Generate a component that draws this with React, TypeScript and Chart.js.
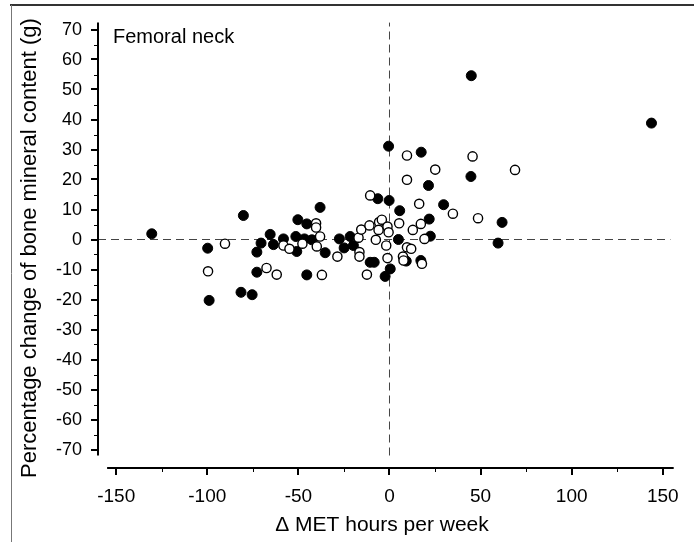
import React, { useEffect, useRef } from "react";
import { Chart, registerables } from "chart.js";

Chart.register(...registerables);

// Filled circles (x: Δ MET hours per week, y: % change of BMC)
const filledX = [-130.5, -80.2, -99.8, -70.5, -72.8, -72.8, -81.5, -75.4, -99, -0.5, -6.4, -0.2, 5.6, -38.1, -50.3, -45.4, -65.5, -63.7, -58.2, -51.4, -50.9, -42.6, -35.3, -45.4, -27.5, -24.9, -21.6, -19.8, -10.6, -8.4, 0.4, -2.4, 17.4, 44.7, 21.4, 29.7, 21.8, 61.8, 22.4, 4.9, 59.6, 9.2, 17.2, 44.9, 143.8, -46.7];
const filledY = [1.9, 8.0, -2.9, -1.2, -4.2, -10.9, -17.6, -18.4, -20.3, 31.1, 13.6, 13.0, 9.6, 10.7, 6.6, 5.2, 1.7, -1.7, 0.2, 1.0, -4.0, -0.1, -4.4, -11.8, 0.2, -2.8, 1.0, -2.0, -7.6, -7.6, -9.8, -12.3, 29.1, 21.0, 18.0, 11.6, 6.8, 5.7, 1.1, 0.0, -1.2, -7.2, -7.0, 54.6, 38.8, 0.2];

// Open circles
const openX = [-90.3, -99.6, -67.5, -10.6, -40.3, -40.3, -38.1, -58.2, -54.9, -47.8, -39.9, -61.9, -37.1, -28.6, -17.0, -15.5, -16.5, -16.5, -11.0, -12.4, -7.5, -5.7, -4.2, -6.0, -1.1, -0.5, -1.8, -1.1, 9.6, 45.6, 25.1, 68.9, 9.6, 16.3, 34.8, 48.6, 5.3, 17.2, 12.8, 19.2, 9.6, 11.9, 7.4, 7.7, 17.8];
const openY = [-1.4, -10.6, -9.5, 14.7, 5.4, 4.0, 1.0, -2.0, -3.1, -1.4, -2.3, -11.7, -11.8, -5.7, 0.6, 3.3, -4.2, -5.7, 4.7, -11.7, -0.1, 5.8, 6.6, 3.2, 4.3, 2.4, -2.0, -6.2, 28.0, 27.7, 23.3, 23.2, 19.9, 11.9, 8.6, 7.1, 5.4, 5.2, 3.2, 0.2, -2.6, -3.1, -5.7, -7.0, -8.1];

const xMajorTicks = [-150, -100, -50, 0, 50, 100, 150];
const xMinorTicks = [-125, -75, -25, 25, 75, 125];
const yMajorTicks = [70, 60, 50, 40, 30, 20, 10, 0, -10, -20, -30, -40, -50, -60, -70];
const yMinorTicks = [65, 55, 45, 35, 25, 15, 5, -5, -15, -25, -35, -45, -55, -65];

const xTitle = "\u0394 MET hours per week";
const yTitle = "Percentage change of bone mineral content (g)";
const panelLabel = "Femoral neck";

const FONT = "'Liberation Sans', Arial, Helvetica, sans-serif";

const axesPlugin = {
  id: "offsetAxes",
  afterDraw(chart: any) {
    const ctx = chart.ctx;
    const xs = chart.scales.x;
    const ys = chart.scales.y;
    const area = chart.chartArea;
    ctx.save();

    // frame (top and left)
    ctx.strokeStyle = "#333";
    ctx.lineWidth = 2;
    ctx.beginPath();
    ctx.moveTo(10, 5);
    ctx.lineTo(694, 5);
    ctx.stroke();
    ctx.strokeStyle = "#777";
    ctx.lineWidth = 1;
    ctx.beginPath();
    ctx.moveTo(11.5, 5);
    ctx.lineTo(11.5, 542);
    ctx.stroke();

    ctx.strokeStyle = "#000";
    ctx.fillStyle = "#000";

    // y axis
    const yAxisX = area.left;
    ctx.lineWidth = 2;
    ctx.beginPath();
    ctx.moveTo(yAxisX, ys.getPixelForValue(72.3));
    ctx.lineTo(yAxisX, ys.getPixelForValue(-72));
    ctx.stroke();
    yMajorTicks.forEach((v) => {
      const py = Math.round(ys.getPixelForValue(v));
      ctx.beginPath();
      ctx.moveTo(yAxisX - 7, py);
      ctx.lineTo(yAxisX, py);
      ctx.stroke();
    });
    ctx.lineWidth = 1;
    yMinorTicks.forEach((v) => {
      const py = Math.round(ys.getPixelForValue(v)) + 0.5;
      ctx.beginPath();
      ctx.moveTo(yAxisX - 4, py);
      ctx.lineTo(yAxisX, py);
      ctx.stroke();
    });
    ctx.font = `18px ${FONT}`;
    ctx.textAlign = "right";
    ctx.textBaseline = "middle";
    yMajorTicks.forEach((v) => {
      ctx.fillText(String(v), yAxisX - 16, ys.getPixelForValue(v) + 1);
    });

    // x axis
    const xAxisY = Math.round(area.bottom);
    ctx.lineWidth = 2;
    ctx.beginPath();
    ctx.moveTo(xs.getPixelForValue(-155), xAxisY);
    ctx.lineTo(xs.getPixelForValue(156), xAxisY);
    ctx.stroke();
    xMajorTicks.forEach((v) => {
      const px = Math.round(xs.getPixelForValue(v));
      ctx.beginPath();
      ctx.moveTo(px, xAxisY);
      ctx.lineTo(px, xAxisY + 7);
      ctx.stroke();
    });
    ctx.lineWidth = 1;
    xMinorTicks.forEach((v) => {
      const px = Math.round(xs.getPixelForValue(v)) + 0.5;
      ctx.beginPath();
      ctx.moveTo(px, xAxisY);
      ctx.lineTo(px, xAxisY + 4);
      ctx.stroke();
    });
    ctx.font = `19px ${FONT}`;
    ctx.textAlign = "center";
    ctx.textBaseline = "alphabetic";
    xMajorTicks.forEach((v) => {
      ctx.fillText(String(v), xs.getPixelForValue(v), 502);
    });

    // axis titles
    ctx.font = `21px ${FONT}`;
    ctx.textAlign = "center";
    ctx.fillText(xTitle, 382, 531);

    ctx.save();
    ctx.translate(36, 248);
    ctx.rotate(-Math.PI / 2);
    ctx.font = `22px ${FONT}`;
    ctx.textAlign = "center";
    ctx.textBaseline = "alphabetic";
    ctx.fillText(yTitle, 0, 0);
    ctx.restore();

    // panel label
    ctx.font = `20px ${FONT}`;
    ctx.textAlign = "left";
    ctx.fillText(panelLabel, 113, 43);

    ctx.restore();
  },
};

export default function App() {
  const ref = useRef<HTMLCanvasElement | null>(null);

  useEffect(() => {
    if (!ref.current) return;
    const filled = filledX.map((x, i) => ({ x, y: filledY[i] }));
    const open = openX.map((x, i) => ({ x, y: openY[i] }));
    const chart = new Chart(ref.current, {
      type: "scatter",
      data: {
        datasets: [
          {
            label: "open",
            data: open,
            order: 0,
            pointRadius: 4.6,
            pointBorderWidth: 1.4,
            pointBackgroundColor: "#ffffff",
            pointBorderColor: "#000000",
          },
          {
            label: "filled",
            data: filled,
            order: 1,
            pointRadius: 5,
            pointBorderWidth: 1,
            pointBackgroundColor: "#000000",
            pointBorderColor: "#000000",
          },
          {
            type: "line",
            label: "h0",
            data: [
              { x: -160, y: 0 },
              { x: 154.2, y: 0 },
            ],
            order: 2,
            borderColor: "#444444",
            borderWidth: 1,
            borderDash: [8, 5],
            pointRadius: 0,
            fill: false,
          } as any,
          {
            type: "line",
            label: "v0",
            data: [
              { x: 0, y: -72 },
              { x: 0, y: 72.3 },
            ],
            order: 2,
            borderColor: "#444444",
            borderWidth: 1,
            borderDash: [8, 5],
            pointRadius: 0,
            fill: false,
          } as any,
        ],
      },
      options: {
        responsive: false,
        animation: false,
        layout: { padding: { left: 98, right: 20.3, top: 22, bottom: 74.5 } },
        scales: {
          x: { type: "linear", min: -160, max: 156, display: false },
          y: { type: "linear", min: -76, max: 72.5, display: false },
        },
        plugins: {
          legend: { display: false },
          tooltip: { enabled: false },
        },
        events: [],
      },
      plugins: [axesPlugin],
    });
    return () => chart.destroy();
  }, []);

  return (
    <div style={{ position: "absolute", left: 0, top: 0, width: 694, height: 542, background: "#fff" }}>
      <canvas ref={ref} width={694} height={542} style={{ width: 694, height: 542, display: "block" }} />
    </div>
  );
}
